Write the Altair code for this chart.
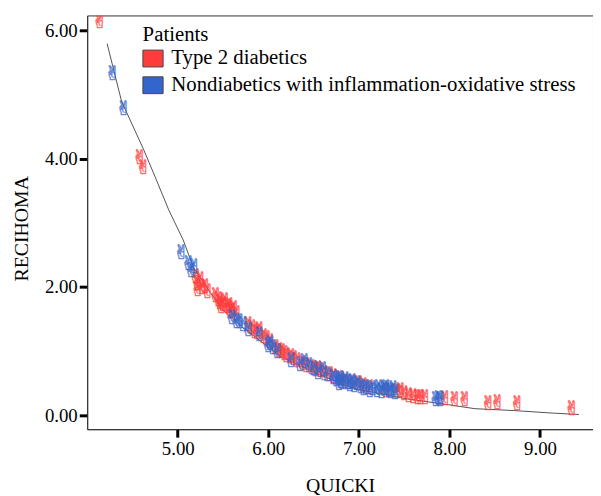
import altair as alt
import pandas as pd

# Type 2 diabetics (QUICKI, RECIHOMA)
red_x = [4.14, 4.58, 4.62,
         5.20, 5.22, 5.25, 5.27, 5.30, 5.33, 5.22,
         5.42, 5.45, 5.47, 5.50, 5.52, 5.55, 5.57, 5.60, 5.62, 5.65, 5.48, 5.58,
         5.78, 5.82, 5.85, 5.88, 5.90, 5.95, 5.98, 6.02,
         6.08, 6.12, 6.15, 6.20, 6.25, 6.28, 6.32, 6.38, 6.42, 6.48, 6.18,
         6.52, 6.55, 6.58, 6.62, 6.68, 6.72, 6.80, 6.85, 6.92, 7.00,
         7.05, 7.12, 7.30, 7.42, 7.46, 7.50, 7.55, 7.60, 7.65, 7.68, 7.73,
         7.95, 8.06, 8.17, 8.43, 8.53, 8.75, 9.35]
red_y = [6.13, 4.01, 3.85,
         2.15, 2.05, 2.10, 1.98, 2.00, 1.92, 1.95,
         1.85, 1.80, 1.75, 1.72, 1.78, 1.68, 1.70, 1.62, 1.66, 1.58, 1.68, 1.60,
         1.40, 1.35, 1.30, 1.28, 1.33, 1.22, 1.18, 1.14,
         1.05, 1.00, 0.98, 0.92, 0.90, 0.88, 0.84, 0.80, 0.76, 0.74, 0.95,
         0.70, 0.72, 0.68, 0.64, 0.62, 0.60, 0.56, 0.52, 0.50, 0.48,
         0.45, 0.42, 0.38, 0.36, 0.38, 0.33, 0.30, 0.28, 0.27, 0.26, 0.26,
         0.25, 0.24, 0.24, 0.17, 0.18, 0.17, 0.10]

# Nondiabetics with inflammation-oxidative stress
blue_x = [4.28, 4.40, 5.04, 5.12, 5.15, 5.18,
          5.60, 5.65, 5.68, 5.72, 5.78, 5.90, 6.00, 6.02, 6.05, 6.10,
          6.25, 6.35, 6.40, 6.45,
          6.50, 6.55, 6.60, 6.65,
          6.72, 6.75, 6.78, 6.80, 6.82, 6.85, 6.88, 6.90, 6.93, 6.95, 6.98, 6.78,
          7.02, 7.05, 7.08, 7.12, 7.15, 7.20, 7.25, 7.28, 7.30, 7.33, 7.35, 7.38, 7.40, 7.22,
          7.85, 7.88, 7.90]
blue_y = [5.32, 4.77, 2.52, 2.35, 2.25, 2.30,
          1.52, 1.45, 1.45, 1.40, 1.32, 1.25, 1.08, 1.10, 1.05, 0.98,
          0.85, 0.78, 0.82, 0.76,
          0.72, 0.66, 0.70, 0.62,
          0.58, 0.55, 0.56, 0.52, 0.50, 0.55, 0.50, 0.47, 0.52, 0.45, 0.48, 0.48,
          0.44, 0.40, 0.42, 0.38, 0.40, 0.38, 0.36, 0.40, 0.42, 0.38, 0.36, 0.40, 0.34, 0.42,
          0.24, 0.25, 0.23]

# Fit line
fit_x = [4.22, 4.38, 4.62, 4.76, 4.90, 5.06, 5.17, 5.36, 5.49, 5.71, 5.77,
         6.13, 6.50, 6.86, 7.00, 7.50, 7.95, 8.28, 8.72, 9.15, 9.43]
fit_y = [5.79, 4.89, 4.15, 3.68, 3.20, 2.73, 2.31, 1.91, 1.65, 1.37, 1.31,
         0.92, 0.67, 0.46, 0.40, 0.26, 0.17, 0.10, 0.07, 0.03, 0.01]

groups = ["Type 2 diabetics", "Nondiabetics with inflammation-oxidative stress"]
colors = ["#ff3b3b", "#3366cc"]

pts = pd.DataFrame({
    "QUICKI": red_x + blue_x,
    "RECIHOMA": red_y + blue_y,
    "Patients": [groups[0]] * len(red_x) + [groups[1]] * len(blue_x),
})
pts["grp"] = pts["Patients"]
fit = pd.DataFrame({"QUICKI": fit_x, "RECIHOMA": fit_y})

FONT = "Liberation Serif"
xscale = alt.Scale(domain=[4.0, 9.585], nice=False, zero=False)
yscale = alt.Scale(domain=[-0.22, 6.23], nice=False, zero=False)

xaxis = alt.Axis(values=[5, 6, 7, 8, 9], format=".2f", grid=False,
                 tickSize=8, tickWidth=3, tickColor="black",
                 domainColor="#333", labelFontSize=19, labelFont=FONT,
                 labelColor="black", labelPadding=3,
                 title="QUICKI", titleFont=FONT, titleFontSize=20,
                 titleFontWeight="normal", titleColor="black",
                 titleY=57, titleBaseline="middle")
yaxis = alt.Axis(values=[0, 2, 4, 6], format=".2f", grid=False,
                 tickSize=8, tickWidth=3, tickColor="black",
                 domainColor="#333", labelFontSize=19, labelFont=FONT,
                 labelColor="black", labelPadding=2,
                 title="RECIHOMA", titleFont=FONT, titleFontSize=20,
                 titleFontWeight="normal", titleColor="black",
                 titleX=-66, titleY=215, titleBaseline="middle")

line = alt.Chart(fit).mark_line(color="black", strokeWidth=0.8, opacity=0.85).encode(
    x=alt.X("QUICKI:Q", scale=xscale, axis=xaxis),
    y=alt.Y("RECIHOMA:Q", scale=yscale, axis=yaxis),
)

# stroke uses a data-derived (alphabetical) domain: Nondiabetics..., Type 2...
glyphs = alt.Chart(pts).mark_text(
    text="\u270c", fontSize=20, font="DejaVu Sans", fill="transparent",
    strokeWidth=0.7, strokeOpacity=0.75, clip=True
).encode(
    x=alt.X("QUICKI:Q", scale=xscale),
    y=alt.Y("RECIHOMA:Q", scale=yscale),
    stroke=alt.Stroke("grp:N", scale=alt.Scale(range=[colors[1], colors[0]]), legend=None),
)

legend_layer = alt.Chart(pts).transform_filter("datum.QUICKI < 0").mark_point(
    filled=True, shape="M-1.2,-1L1.2,-1L1.2,1L-1.2,1Z", size=289
).encode(
    x=alt.X("QUICKI:Q", scale=xscale),
    y=alt.Y("RECIHOMA:Q", scale=yscale),
    color=alt.Color("Patients:N", scale=alt.Scale(domain=groups, range=colors),
                    legend=alt.Legend(orient="none", legendX=56, legendY=9,
                                      title="Patients", titleFont=FONT,
                                      titleFontSize=21, titleFontWeight="normal",
                                      titleColor="black", labelFont=FONT,
                                      labelFontSize=21, labelColor="black",
                                      symbolType="M-1.2,-1L1.2,-1L1.2,1L-1.2,1Z",
                                      symbolSize=289, symbolOpacity=1,
                                      symbolStrokeColor="#444", symbolStrokeWidth=1,
                                      rowPadding=5, titlePadding=3, symbolOffset=0,
                                      labelOffset=8, labelLimit=0)),
)

chart = alt.layer(line, glyphs, legend_layer).properties(
    width=511, height=418, background="white",
    autosize=alt.AutoSizeParams(type="none"),
    padding={"left": 80, "top": 5, "right": 0, "bottom": 70},
).configure_view(stroke="#333", strokeWidth=1)

chart.save("out.html", embed_options={"renderer": "svg", "actions": False})
